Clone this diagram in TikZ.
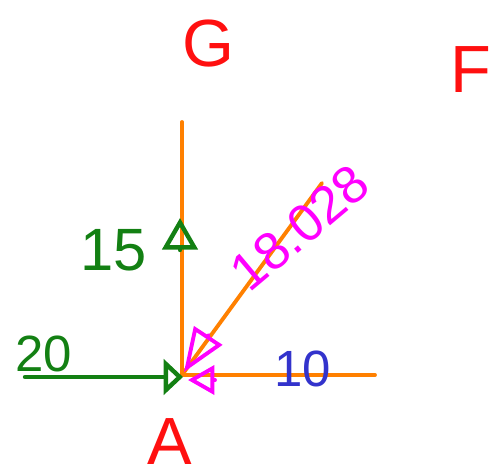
\documentclass[tikz,border=0pt]{standalone}
\usepackage{fontspec}
\setmainfont{Liberation Sans}
\usepackage{xcolor}
\usepackage{tikz}
\usetikzlibrary{arrows.meta,calc}
\definecolor{beam}{HTML}{FF8000}
\definecolor{force}{HTML}{138013}
\definecolor{result}{HTML}{FF00FF}
\definecolor{react}{HTML}{3333CC}
\definecolor{point}{HTML}{FF1010}

\begin{document}
\begin{tikzpicture}[x=0.02cm,y=-0.02cm,
    member/.style={beam,line width=2.2pt,line cap=round},
    pull/.style={force,line width=2.5pt,line cap=round},
    push/.style={result,line width=2.2pt,line cap=round,line join=round},
    letter/.style={font=\fontsize{38}{40}\selectfont,text=point,inner sep=0pt}]
  \useasboundingbox (0,0) rectangle (492,475);
  % joint and member ends
  \coordinate (A) at (182,375);
  \coordinate (topend) at (182,122);
  \coordinate (rightend) at (375,375);
  \coordinate (diagend) at (322,183);
  \coordinate (leftend) at (25,377);
  \draw[member] (A) -- (topend);
  \draw[member] (A) -- (rightend);
  \draw[member] (A) -- (diagend);
  % forces
  \draw[pull,-{Triangle[open,length=11pt,width=20pt]}] (leftend) -- (183,377);
  \draw[pull,-{Triangle[open,length=18pt,width=20pt]}] (180,250) -- (180,218);
  \draw[push,-{Triangle[open,length=25pt,width=19pt]}] (208.5,335) -- (184,372);
  \draw[push,-{Triangle[open,length=15pt,width=16.5pt]}] (215,380) -- (188,380);
  % labels
  \node[letter] (G) at (208,44) {G};
  \node[letter] (F) at (471,70) {F};
  \node[letter] (Alabel) at (170,442) {A};
  \node[font=\fontsize{29}{30}\selectfont,text=force] (w20) at (44,354) {20};
  \node[font=\fontsize{34}{36}\selectfont,text=force] (w15) at (114,250) {15};
  \node[font=\fontsize{29}{30}\selectfont,text=react] (w10) at (303,369) {10};
  \node[font=\fontsize{30}{32}\selectfont,text=result,rotate=40] (w18) at (300,228) {18.028};
\end{tikzpicture}
\end{document}
